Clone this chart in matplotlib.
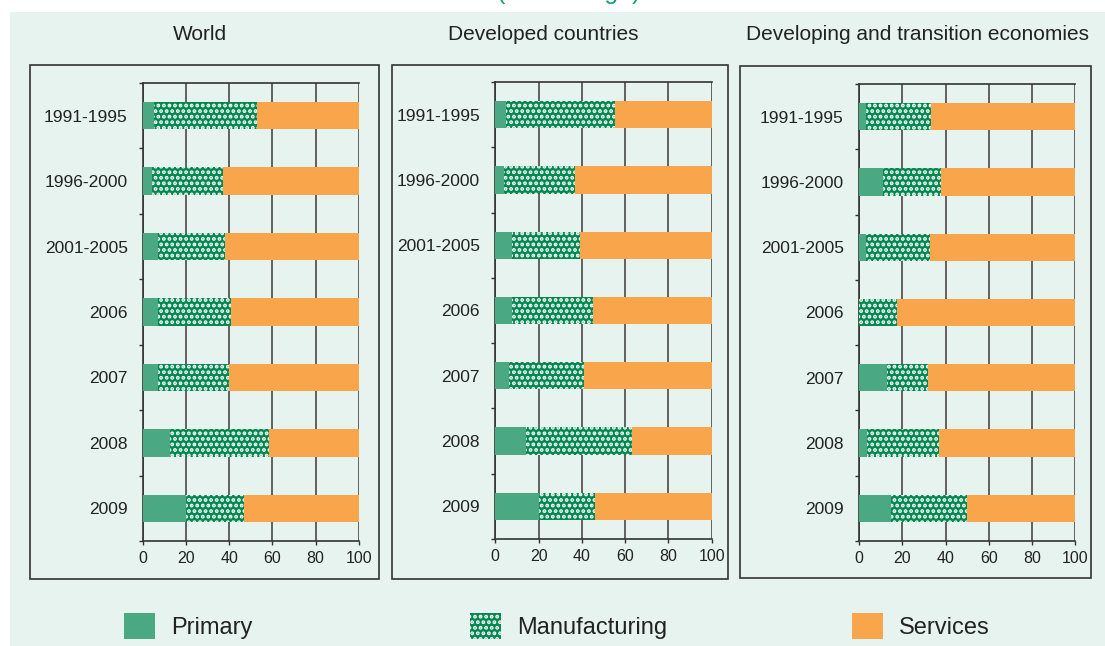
"""
Sectoral shares of greenfield FDI projects: world, developed and
developing/transition economies (stacked 100% horizontal bars).
"""

import matplotlib

matplotlib.use("Agg")
import matplotlib.pyplot as plt
from matplotlib.patches import Patch, Rectangle

plt.rcParams["font.family"] = ["Liberation Sans", "DejaVu Sans"]
plt.rcParams["hatch.linewidth"] = 1.9

PERIODS = ["1991-1995", "1996-2000", "2001-2005", "2006", "2007", "2008", "2009"]
XTICKS = [0, 20, 40, 60, 80, 100]

# shares (per cent); services is the remainder
WORLD_PRIMARY = [5.1, 4.3, 6.8, 6.8, 6.8, 12.6, 20.0]
WORLD_MANUF = [47.9, 32.7, 31.3, 33.8, 33.3, 46.0, 26.8]

DEVD_PRIMARY = [4.9, 4.0, 7.7, 7.7, 6.3, 14.2, 20.3]
DEVD_MANUF = [50.4, 32.8, 31.4, 37.3, 34.7, 49.0, 25.7]

DEVG_PRIMARY = [3.1, 11.1, 3.4, 0.0, 13.1, 3.8, 14.9]
DEVG_MANUF = [30.3, 26.7, 29.3, 17.7, 19.0, 33.3, 34.9]

PANELS = [
    ("World", WORLD_PRIMARY, WORLD_MANUF),
    ("Developed countries", DEVD_PRIMARY, DEVD_MANUF),
    ("Developing and transition economies", DEVG_PRIMARY, DEVG_MANUF),
]

C_PRIMARY = "#4aa983"
C_MANUF = "#00894f"
C_SERVICES = "#f9a54b"
C_BG = "#e6f3ee"
C_TEXT = "#222222"

W, H = 1105, 646

# pixel layout: (axes left, axes right, axes top, axes bottom), (box l, r, t, b), title x
LAYOUT = [
    ((143, 358.7, 83, 541), (30, 379, 65, 579), 200),
    ((495.3, 711.7, 82, 539), (392, 728, 65, 579), 543),
    ((859, 1075.3, 84, 541), (740, 1091, 66, 578), 918),
]


def fx(px):
    return px / W


def fy(py):
    return 1 - py / H


fig = plt.figure(figsize=(W / 100, H / 100), dpi=100)
fig.patch.set_facecolor("white")
fig.add_artist(
    Rectangle((fx(10), 0), 1 - fx(10), fy(12), transform=fig.transFigure,
              facecolor=C_BG, edgecolor="none", zorder=-10)
)

# heading, mostly cut off at the top edge (as in the source picture)
fig.text(fx(569), 1 + 1 / H, "(Percentage)", color="#14a27a", fontsize=18,
         ha="center", va="baseline")

for (title, primary, manuf), (axp, box, tx) in zip(PANELS, LAYOUT):
    l, r, t, b = axp
    ax = fig.add_axes([fx(l), fy(b), fx(r) - fx(l), fy(t) - fy(b)])
    ax.set_facecolor(C_BG)

    services = [100 - p - m for p, m in zip(primary, manuf)]
    ypos = list(range(len(PERIODS)))
    left3 = [p + m for p, m in zip(primary, manuf)]

    ax.barh(ypos, primary, height=0.42, color=C_PRIMARY, edgecolor="none", zorder=3)
    ax.barh(ypos, manuf, left=primary, height=0.42, color=C_MANUF,
            edgecolor="white", linewidth=0, hatch="...", zorder=3)
    ax.barh(ypos, services, left=left3, height=0.42, color=C_SERVICES,
            edgecolor="none", zorder=3)

    ax.set_xlim(0, 100)
    ax.set_ylim(len(PERIODS) - 0.5, -0.5)
    ax.set_xticks(XTICKS)
    ax.set_yticks(ypos)
    ax.set_yticklabels(PERIODS)
    ax.set_yticks([i - 0.5 for i in range(len(PERIODS) + 1)], minor=True)
    ax.grid(axis="x", color="#555555", linewidth=1.3, zorder=1)
    ax.set_axisbelow(True)

    ax.tick_params(axis="y", which="major", length=0, pad=11, labelsize=12.5,
                   labelcolor=C_TEXT)
    ax.tick_params(axis="y", which="minor", length=3, width=1, color="#333333",
                   direction="out")
    ax.tick_params(axis="x", length=3, width=1, color="#333333", pad=4,
                   labelsize=11.5, labelcolor=C_TEXT)

    for side in ("left", "bottom", "top"):
        ax.spines[side].set_color("#333333")
        ax.spines[side].set_linewidth(1.2)
    ax.spines["right"].set_visible(False)

    bl, br, bt, bb = box
    fig.add_artist(
        Rectangle((fx(bl), fy(bb)), fx(br) - fx(bl), fy(bt) - fy(bb),
                  transform=fig.transFigure, facecolor="none",
                  edgecolor="#333333", linewidth=1.2, zorder=-5)
    )
    fig.text(fx(tx), fy(34), title, ha="center", va="center", fontsize=15,
             color=C_TEXT)

# legend, one entry per slot
legend_items = [
    ("Primary", dict(facecolor=C_PRIMARY, edgecolor="none"), 124),
    ("Manufacturing", dict(facecolor=C_MANUF, edgecolor="white", linewidth=0,
                           hatch="..."), 470),
    ("Services", dict(facecolor=C_SERVICES, edgecolor="none"), 852),
]
for label, style, xpos in legend_items:
    fig.legend(
        handles=[Patch(label=label, **style)],
        loc="center left",
        bbox_to_anchor=(fx(xpos), fy(626)),
        frameon=False,
        fontsize=17,
        handlelength=1.3,
        handleheight=1.35,
        handletextpad=0.7,
        borderpad=0,
        borderaxespad=0,
        labelcolor=C_TEXT,
    )

fig.savefig("out.png", dpi=100, facecolor=fig.get_facecolor())
